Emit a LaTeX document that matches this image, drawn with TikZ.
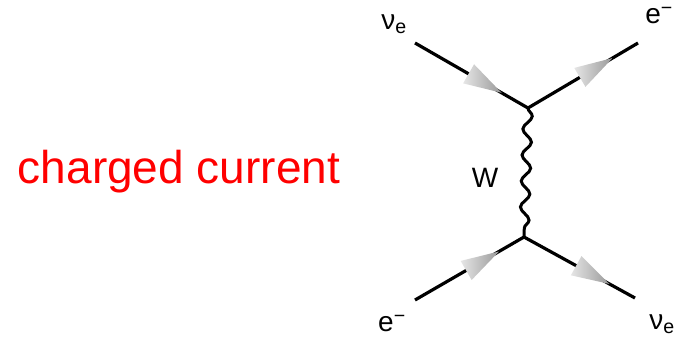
\documentclass[tikz,border=0pt]{standalone}
\usepackage{fontspec}
\setmainfont{Liberation Sans}
\usepackage{tikz}
\usetikzlibrary{decorations.pathmorphing,decorations.markings}

\begin{document}
\begin{tikzpicture}[x=1pt,y=-1pt,
      fermion/.style={line width=3.2pt,postaction={decorate},decoration={markings,
        mark=at position 0.62 with {\shade[left color=gray!20,right color=gray!80,draw=none]
          (-19,-11) -- (19,0) -- (-19,11) -- cycle;}}},
      boson/.style={line width=3pt,decorate,decoration={snake,segment length=26pt,amplitude=4.5pt}},
      label/.style={font=\fontsize{28}{30}\selectfont,inner sep=0pt}]
      \useasboundingbox (0,0) rectangle (677,338);
      \node[font=\fontsize{46}{50}\selectfont,text=red,inner sep=0pt] (title) at (179,172) {charged current};
      % vertices
      \coordinate (vtop) at (528,108);
      \coordinate (vbot) at (524,237);
      \coordinate (nuin) at (415,43);
      \coordinate (eout) at (638,43);
      \coordinate (ein) at (415,300);
      \coordinate (nuout) at (635,298);
      \node[label] (nuinl) at (394,24) {ν\textsubscript{e}};
      \node[label] (eoutl) at (659,16) {e\textsuperscript{−}};
      \node[label] (einl) at (392,324) {e\textsuperscript{−}};
      \node[label] (nuoutl) at (662,324) {ν\textsubscript{e}};
      \node[label] (wl) at (485,178) {W};
      \draw[fermion] (nuin) -- (vtop);
      \draw[fermion] (vtop) -- (eout);
      \draw[fermion] (ein) -- (vbot);
      \draw[fermion] (vbot) -- (nuout);
      \draw[boson] (vtop) -- (vbot);
    \end{tikzpicture}
\end{document}
